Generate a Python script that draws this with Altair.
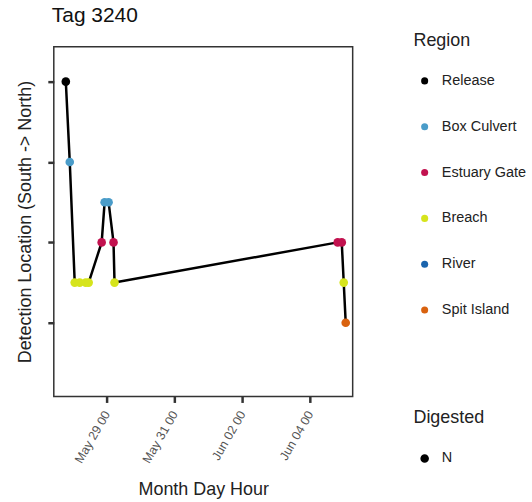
import altair as alt
import pandas as pd

# detections (local time strings), location level, region
times = [
    "2023-05-27T19:06", "2023-05-27T21:54", "2023-05-28T01:24", "2023-05-28T04:54",
    "2023-05-28T09:12", "2023-05-28T11:18", "2023-05-28T20:30", "2023-05-28T22:36",
    "2023-05-29T01:24", "2023-05-29T04:54", "2023-05-29T05:36", "2023-06-04T19:42",
    "2023-06-04T22:36", "2023-06-05T00:00", "2023-06-05T01:24",
]
locations = [4, 3, 1.5, 1.5, 1.5, 1.5, 2, 2.5, 2.5, 2, 1.5, 2, 2, 1.5, 1]
regions = [
    "Release", "Box Culvert", "Breach", "Breach", "Breach", "Breach", "Estuary Gate",
    "Box Culvert", "Box Culvert", "Estuary Gate", "Breach", "Estuary Gate",
    "Estuary Gate", "Breach", "Spit Island",
]
digested = ["N"] * len(times)

region_order = ["Release", "Box Culvert", "Estuary Gate", "Breach", "River", "Spit Island"]
region_colors = ["#000000", "#4a9cc9", "#c2124f", "#d6e41c", "#1a64ad", "#d9620f"]
tick_dates = ["2023-05-29", "2023-05-31", "2023-06-02", "2023-06-04"]
y_ticks = [1, 2, 3, 4]

FONT = "Liberation Sans"

df = pd.DataFrame({
    "t": times, "loc": locations, "Region": regions, "Digested": digested,
    "order": list(range(len(times))),
})

x_enc = alt.X(
    "t:T",
    title="Month Day Hour",
    scale=alt.Scale(domain=[{"year": 2023, "month": 5, "date": 27, "hours": 10, "minutes": 35},
                            {"year": 2023, "month": 6, "date": 5, "hours": 6, "minutes": 20}]),
    axis=alt.Axis(
        values=[{"year": 2023, "month": int(d[5:7]), "date": int(d[8:10])} for d in tick_dates],
        format="%b %d %H", labelAngle=300, labelAlign="right", labelBaseline="middle",
        labelColor="#555555", labelFontSize=12.5, labelFont=FONT, labelPadding=9,
        tickSize=6, tickWidth=2.5, tickColor="#333333", domain=False, grid=False,
        titleFontSize=18, titleFont=FONT, titleFontWeight="normal", titleColor="#222222",
        titlePadding=16,
    ),
)
y_enc = alt.Y(
    "loc:Q",
    title="Detection Location (South -> North)",
    scale=alt.Scale(domain=[0.083, 4.434], nice=False, zero=False),
    axis=alt.Axis(
        values=y_ticks, labels=False, tickSize=6, tickWidth=2.5, tickColor="#333333",
        domain=False, grid=False, titleFontSize=18, titleFont=FONT, titleFontWeight="normal",
        titleColor="#222222", titlePadding=12,
    ),
)

legend_common = dict(
    orient="none", titleFontSize=18, titleFont=FONT, titleFontWeight="normal",
    titleColor="#222222", labelFontSize=14.5, labelFont=FONT, labelColor="#222222",
    symbolSize=50, symbolOffset=4, labelOffset=10,
)

base = alt.Chart(df)
line = base.mark_line(color="black", strokeWidth=2.5).encode(x=x_enc, y=y_enc, order="order:Q")
points = base.mark_point(size=75, filled=True, opacity=1).encode(
    x=x_enc, y=y_enc,
    color=alt.Color(
        "Region:N",
        scale=alt.Scale(domain=region_order, range=region_colors),
        legend=alt.Legend(
            legendX=361, legendY=-15, title="Region", symbolType="circle",
            rowPadding=31, titlePadding=24, **legend_common,
        ),
    ),
    shape=alt.Shape(
        "Digested:N",
        scale=alt.Scale(domain=["N"], range=["circle"]),
        legend=alt.Legend(
            legendX=361, legendY=364, title="Digested", symbolFillColor="black",
            symbolStrokeColor="black", titlePadding=24, **legend_common,
        ),
    ),
)

chart = (
    (line + points)
    .properties(
        width=300, height=351,
        title=alt.TitleParams("Tag 3240", anchor="start", frame="group", fontSize=21,
                              font=FONT, fontWeight="normal", color="#111111",
                              offset=6, dx=-2),
        padding={"left": 16, "top": 4, "right": 5, "bottom": 5},
        view=alt.ViewBackground(stroke="#333333", strokeWidth=1.5),
    )
    .configure_view(stroke="#333333", strokeWidth=1.5)
    .configure(background="white")
)

chart.save("out.html", embed_options={"renderer": "svg", "actions": False})
